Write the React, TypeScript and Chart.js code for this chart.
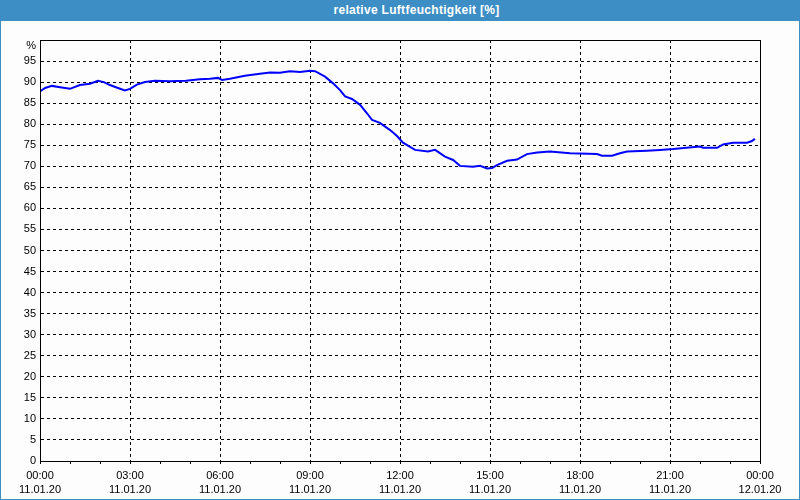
import React, { useEffect, useRef } from "react";
import { Chart, registerables } from "chart.js";

Chart.register(...registerables);

const TITLE = "relative Luftfeuchtigkeit [%]";

// time in hours since 11.01.20 00:00
const hours = [
  0.0, 0.17, 0.4, 0.67, 1.0, 1.33, 1.67, 1.93, 2.13, 2.33, 2.6, 2.83, 3.0, 3.23, 3.5, 3.83,
  4.33, 4.87, 5.33, 5.67, 5.93, 6.07, 6.33, 6.83, 7.33, 7.67, 8.0, 8.33, 8.67, 9.0, 9.17,
  9.5, 9.77, 10.0, 10.17, 10.4, 10.67, 10.9, 11.07, 11.33, 11.67, 11.9, 12.1, 12.5, 12.93,
  13.17, 13.5, 13.77, 14.0, 14.43, 14.67, 14.9, 15.07, 15.23, 15.57, 15.9, 16.23, 16.57,
  17.0, 17.67, 18.57, 18.73, 19.07, 19.33, 19.57, 20.23, 20.67, 21.1, 22.0, 22.1, 22.57,
  22.77, 23.1, 23.57, 23.73, 23.83,
];
const humidity = [
  87.8, 88.6, 89.1, 88.8, 88.4, 89.3, 89.6, 90.3, 90.0, 89.3, 88.6, 88.0, 88.4, 89.4, 90.0, 90.3,
  90.2, 90.3, 90.7, 90.8, 91.0, 90.5, 90.8, 91.5, 92.0, 92.3, 92.2, 92.6, 92.4, 92.7, 92.6,
  91.3, 89.7, 88.1, 86.6, 86.0, 84.6, 82.6, 81.0, 80.3, 78.6, 77.2, 75.6, 73.9, 73.5,
  73.9, 72.3, 71.5, 70.1, 69.9, 70.1, 69.5, 69.6, 70.3, 71.3, 71.6, 72.9, 73.3,
  73.5, 73.1, 72.9, 72.5, 72.5, 73.1, 73.5, 73.7, 73.9, 74.1, 74.7, 74.4, 74.4,
  75.2, 75.6, 75.6, 76.0, 76.5,
];

const timeLabels = ["00:00", "03:00", "06:00", "09:00", "12:00", "15:00", "18:00", "21:00", "00:00"];
const dateLabels = ["11.01.20", "11.01.20", "11.01.20", "11.01.20", "11.01.20", "11.01.20", "11.01.20", "11.01.20", "12.01.20"];

const yTopLabel = "%";

const FONT = "'Liberation Sans', Arial, sans-serif";
const BLUE = "#3d8ec5";

export default function App() {
  const ref = useRef<HTMLCanvasElement | null>(null);

  useEffect(() => {
    document.body.style.margin = "0";
    const canvas = ref.current;
    if (!canvas) return;

    const frame = {
      id: "frame",
      afterDraw(chart: any) {
        const { ctx, chartArea } = chart;
        ctx.save();
        ctx.strokeStyle = "#000";
        ctx.lineWidth = 1;
        ctx.setLineDash([]);
        ctx.strokeRect(
          Math.round(chartArea.left) + 0.5,
          Math.round(chartArea.top) + 0.5,
          Math.round(chartArea.right - chartArea.left),
          Math.round(chartArea.bottom - chartArea.top)
        );
        ctx.restore();
      },
    };

    const chart = new Chart(canvas, {
      type: "line",
      data: {
        datasets: [
          {
            data: hours.map((h, i) => ({ x: h, y: humidity[i] })),
            borderColor: "#0000ff",
            borderWidth: 2,
            pointRadius: 0,
            tension: 0,
            fill: false,
          },
        ],
      },
      options: {
        responsive: false,
        animation: false,
        devicePixelRatio: 1,
        layout: { padding: { left: 0, top: 19, right: 39, bottom: 0 } },
        plugins: {
          legend: { display: false },
          tooltip: { enabled: false },
          title: { display: false },
        },
        scales: {
          x: {
            type: "linear",
            min: 0,
            max: 24,
            afterFit: (s: any) => {
              s.height = 38;
            },
            ticks: {
              stepSize: 1,
              autoSkip: false,
              maxRotation: 0,
              color: "#000",
              padding: 4,
              font: { family: FONT, size: 11, lineHeight: 1.36 },
              callback: (v: any) => {
                const n = Number(v);
                if (n % 3 !== 0) return "";
                const i = n / 3;
                return [timeLabels[i], dateLabels[i]];
              },
            },
            grid: {
              color: (c: any) => (c.tick && c.tick.value % 3 === 0 ? "#000" : "rgba(0,0,0,0)"),
              tickColor: "#000",
              tickLength: 3,
              lineWidth: 1,
            },
            border: { display: true, color: "#000", dash: [3, 3] },
          },
          y: {
            min: 0,
            max: 100,
            afterFit: (s: any) => {
              s.width = 39;
            },
            ticks: {
              stepSize: 5,
              autoSkip: false,
              color: "#000",
              padding: 4,
              font: { family: FONT, size: 11, lineHeight: 1.1 },
              callback: (v: any) => (Number(v) === 100 ? ["", yTopLabel] : String(v)),
            },
            grid: {
              color: "#000",
              drawTicks: false,
              lineWidth: 1,
            },
            border: { display: true, color: "#000", dash: [3, 3] },
          },
        },
      },
      plugins: [frame],
    });

    return () => chart.destroy();
  }, []);

  return (
    <div style={{ position: "absolute", left: 0, top: 0, width: 800, height: 500, background: BLUE }}>
      <div
        style={{
          position: "absolute",
          left: 0,
          top: 0,
          width: 800,
          height: 21,
          lineHeight: "21px",
          color: "#fff",
          fontFamily: FONT,
          fontWeight: "bold",
          fontSize: 12,
          letterSpacing: 0.3,
          textAlign: "center",
          paddingLeft: 33,
          boxSizing: "border-box",
        }}
      >
        {TITLE}
      </div>
      <div style={{ position: "absolute", left: 1, top: 21, width: 798, height: 478, background: "#fcfdfc" }}>
        <canvas ref={ref} width={798} height={478} style={{ display: "block" }} />
      </div>
    </div>
  );
}
